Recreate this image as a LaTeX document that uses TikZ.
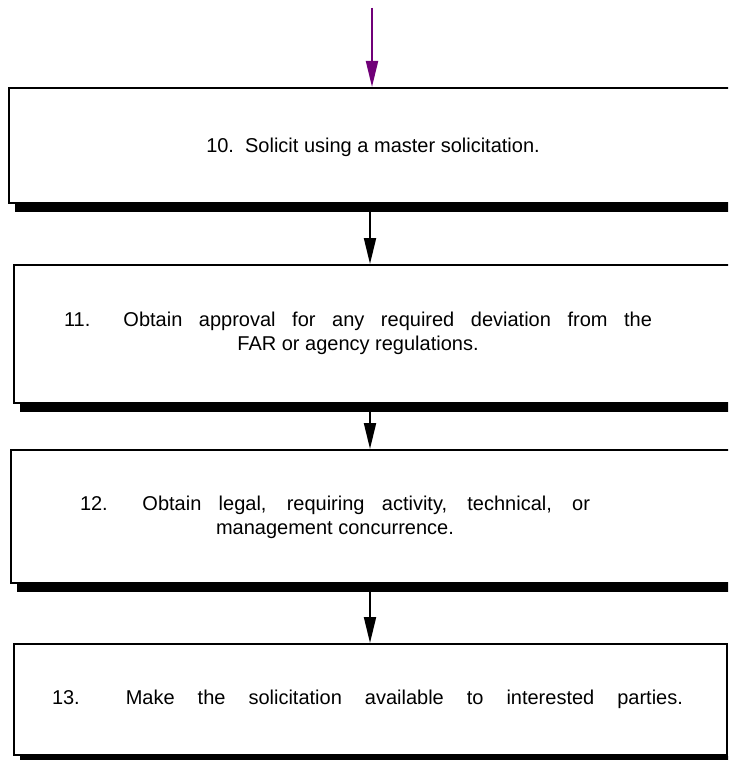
\documentclass[tikz,border=0pt]{standalone}
\usepackage{fontspec}
\setmainfont{Liberation Sans}
\usetikzlibrary{arrows.meta}

\begin{document}
\begin{tikzpicture}[x=1pt,y=-1pt,
  stepbox/.style={draw=black, line width=2pt, fill=white, inner sep=0pt},
  steptext/.style={font=\fontsize{20}{24}\selectfont, align=center, inner sep=0pt},
  flow/.style={line width=2pt, -{Triangle[length=26pt, width=12pt]}},
  entry/.style={flow, draw={rgb,255:red,112;green,0;blue,120}, fill={rgb,255:red,112;green,0;blue,120}}]
\path[use as bounding box, clip] (0,0) rectangle (728,760);
\coordinate (spine) at (370,0);
\coordinate (top) at (372,8);
% boxes
\node[stepbox, minimum width=771pt, minimum height=115pt] (b1) at (394.5,145.5) {};
\node[stepbox, minimum width=766pt, minimum height=138pt] (b2) at (397,334) {};
\node[stepbox, minimum width=769pt, minimum height=133pt] (b3) at (395.5,516.5) {};
\node[stepbox, minimum width=713pt, minimum height=111pt] (b4) at (370.5,699.5) {};
% shadows
\foreach \b in {b1,b2,b3,b4}
  \fill ([xshift=7pt]\b.south west) rectangle ([xshift=7pt, yshift=-8pt]\b.south east);
% texts
\node[steptext] (t1) at (373,147) {10.\ \ Solicit using a master solicitation.};
\node[steptext] (t2) at (358,333) {\makebox[588pt][s]{11.\ \ Obtain approval for any required deviation from the}\\FAR or agency regulations.};
\node[steptext] (t3) at (335,517) {\makebox[510pt][s]{12.\ \ Obtain legal, requiring activity, technical, or}\\management concurrence.};
\node[steptext] (t4) at (367.5,699) {\makebox[631pt][s]{13.\ \ Make the solicitation available to interested parties.}};
% arrows
\draw[entry] (top) -- (b1.north -| top);
\draw[flow] ([yshift=-8pt]b1.south -| spine) -- (b2.north -| spine);
\draw[flow] ([yshift=-8pt]b2.south -| spine) -- (b3.north -| spine);
\draw[flow] ([yshift=-8pt]b3.south -| spine) -- (b4.north -| spine);
\end{tikzpicture}
\end{document}
